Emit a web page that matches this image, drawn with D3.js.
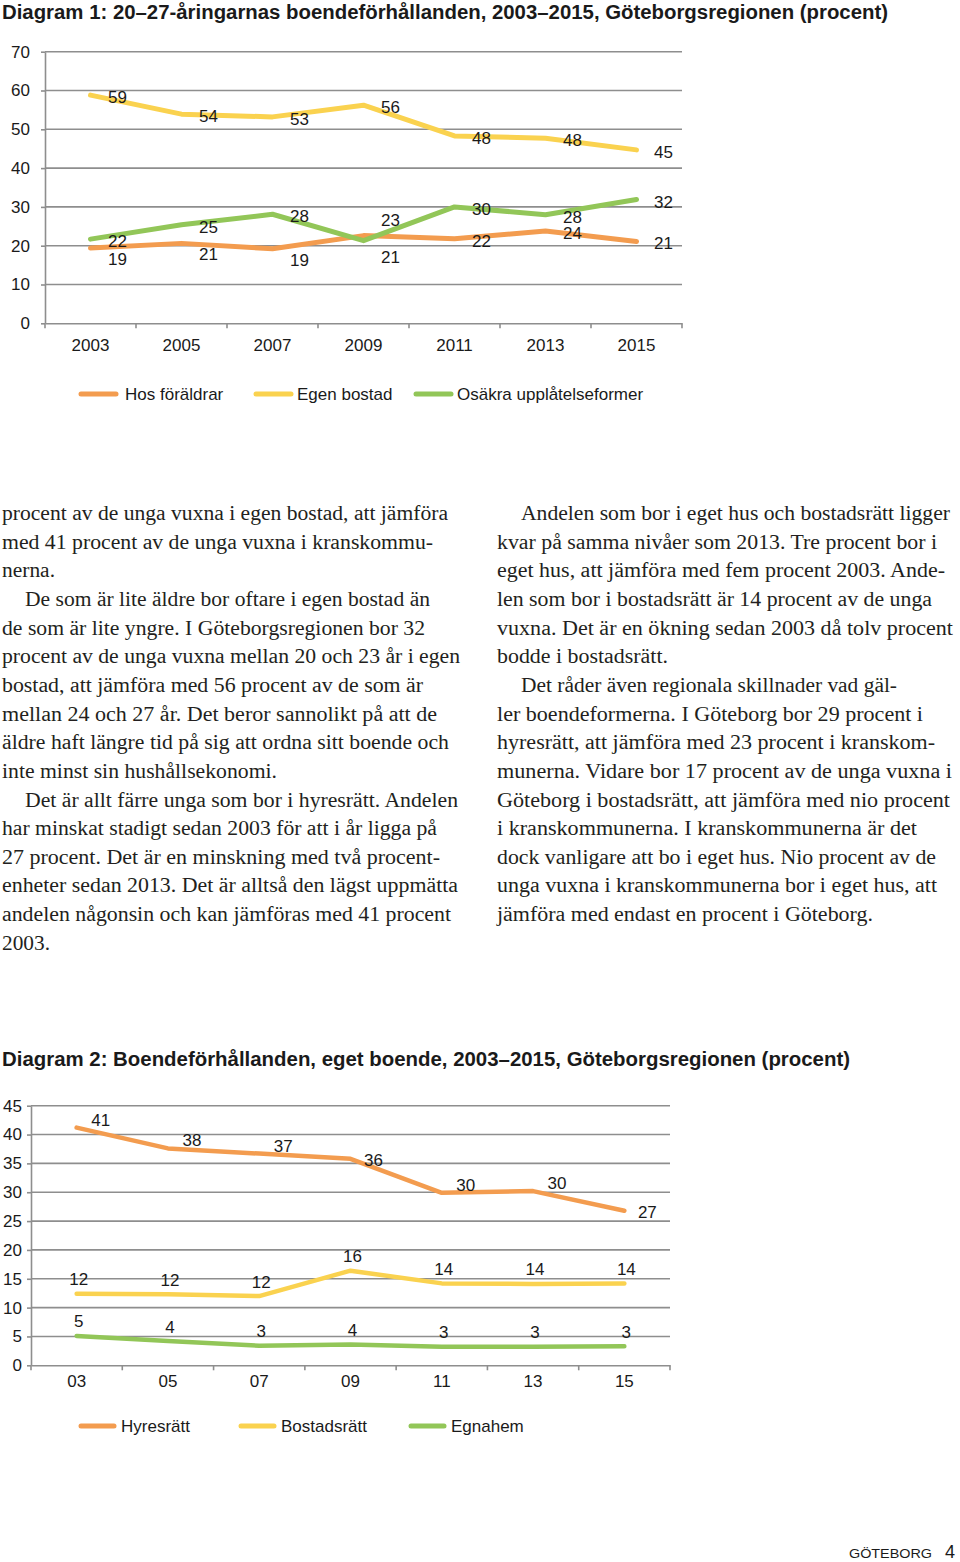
<!DOCTYPE html>
<html><head><meta charset="utf-8">
<script src="https://cdn.jsdelivr.net/npm/d3@7"></script>
<style>body{margin:0;background:#fff} svg{display:block}</style>
</head><body><svg id="page" width="960" height="1562"></svg>
<script>
// ---------- DATA ----------
const title1 = "Diagram 1: 20–27-åringarnas boendeförhållanden, 2003–2015, Göteborgsregionen (procent)";
const years1 = ['2003','2005','2007','2009','2011','2013','2015'];
const hosForaldrar = [19.4, 20.6, 19.2, 22.6, 21.8, 23.8, 21.1];
const egenBostad   = [58.8, 53.9, 53.2, 56.2, 48.3, 47.7, 44.7];
const osakra       = [21.7, 25.4, 28.1, 21.3, 30.0, 28.0, 31.9];
const yTicks1 = [0,10,20,30,40,50,60,70];
const legend1 = ['Hos föräldrar','Egen bostad','Osäkra upplåtelseformer'];

const title2 = "Diagram 2: Boendeförhållanden, eget boende, 2003–2015, Göteborgsregionen (procent)";
const years2 = ['03','05','07','09','11','13','15'];
const hyresratt   = [41.2, 37.6, 36.7, 35.8, 29.9, 30.2, 26.8];
const bostadsratt = [12.4, 12.3, 12.0, 16.4, 14.2, 14.1, 14.2];
const egnahem     = [5.1, 4.2, 3.4, 3.6, 3.2, 3.2, 3.3];
const yTicks2 = [0,5,10,15,20,25,30,35,40,45];
const legend2 = ['Hyresrätt','Bostadsrätt','Egnahem'];

const leftLines = [
 "procent av de unga vuxna i egen bostad, att jämföra",
 "med 41 procent av de unga vuxna i kranskommu-",
 "nerna.",
 "De som är lite äldre bor oftare i egen bostad än",
 "de som är lite yngre. I Göteborgsregionen bor 32",
 "procent av de unga vuxna mellan 20 och 23 år i egen",
 "bostad, att jämföra med 56 procent av de som är",
 "mellan 24 och 27 år. Det beror sannolikt på att de",
 "äldre haft längre tid på sig att ordna sitt boende och",
 "inte minst sin hushållsekonomi.",
 "Det är allt färre unga som bor i hyresrätt. Andelen",
 "har minskat stadigt sedan 2003 för att i år ligga på",
 "27 procent. Det är en minskning med två procent-",
 "enheter sedan 2013. Det är alltså den lägst uppmätta",
 "andelen någonsin och kan jämföras med 41 procent",
 "2003."
];
const rightLines = [
 "Andelen som bor i eget hus och bostadsrätt ligger",
 "kvar på samma nivåer som 2013. Tre procent bor i",
 "eget hus, att jämföra med fem procent 2003. Ande-",
 "len som bor i bostadsrätt är 14 procent av de unga",
 "vuxna. Det är en ökning sedan 2003 då tolv procent",
 "bodde i bostadsrätt.",
 "Det råder även regionala skillnader vad gäl-",
 "ler boendeformerna. I Göteborg bor 29 procent i",
 "hyresrätt, att jämföra med 23 procent i kranskom-",
 "munerna. Vidare bor 17 procent av de unga vuxna i",
 "Göteborg i bostadsrätt, att jämföra med nio procent",
 "i kranskommunerna. I kranskommunerna är det",
 "dock vanligare att bo i eget hus. Nio procent av de",
 "unga vuxna i kranskommunerna bor i eget hus, att",
 "jämföra med endast en procent i Göteborg."
];
const footerText = "GÖTEBORG";
const pageNo = "4";

// ---------- LAYOUT / STYLE ----------
const ORANGE = '#F39C4F', YELLOW = '#FAD24F', GREEN = '#92C658';
const GRID = '#8e8e8e', INK = '#1a1a1a';
const SANS = "'Liberation Sans', Arial, Helvetica, sans-serif";
const SERIF = "'Liberation Serif', 'Times New Roman', serif";
const FS = 17;

const leftStart = 2, leftIndent = 25;
const leftEnds = [448,433,55,430,425,460,423,437,449,277,458,437,440,458,451,50];
const leftIndented = [3,10];
const rightStart = 497, rightIndent = 521;
const rightEnds = [950,937,945,932,953,668,897,923,935,952,950,917,936,937,873];
const rightIndented = [0,6];
const bodyTop = 520, bodyLead = 28.65;

const svg = d3.select('#page');

// ---------- Titles ----------
function title(txt, y, x2){
  svg.append('text').attr('x',2).attr('y',y).attr('font-family',SANS)
    .attr('font-weight','bold').attr('font-size',20).attr('fill',INK)
    .attr('textLength', x2-2).attr('lengthAdjust','spacingAndGlyphs').text(txt);
}
title(title1, 18.5, 888);
title(title2, 1065.5, 850);

// ---------- Chart builder ----------
function drawChart(cfg){
  const g = svg.append('g');
  const x = d3.scaleBand().domain(cfg.cats).range([cfg.x0, cfg.x1]);
  const y = d3.scaleLinear().domain([0, cfg.ymax]).range([cfg.y0, cfg.y1]);
  const cx = c => x(c) + x.bandwidth()/2;

  g.append('g').selectAll('line').data(cfg.yTicks.filter(t=>t>0)).join('line')
    .attr('x1',cfg.x0).attr('x2',cfg.x1).attr('y1',d=>y(d)).attr('y2',d=>y(d))
    .attr('stroke',GRID).attr('stroke-width',1.6);

  const ya = g.append('g').attr('transform',`translate(${cfg.x0},0)`)
    .call(d3.axisLeft(y).tickValues(cfg.yTicks).tickSize(4).tickPadding(cfg.yPad).tickSizeOuter(0));
  ya.select('.domain').attr('stroke',GRID).attr('stroke-width',1.6);
  ya.selectAll('.tick line').attr('stroke',GRID).attr('stroke-width',1.6);
  ya.selectAll('.tick text').attr('font-family',SANS).attr('font-size',FS).attr('fill',INK);

  const xa = g.append('g').attr('transform',`translate(0,${cfg.y0})`)
    .call(d3.axisBottom(x).tickSize(0).tickPadding(cfg.xPad).tickSizeOuter(0));
  xa.select('.domain').attr('stroke',GRID).attr('stroke-width',1.6);
  xa.selectAll('.tick text').attr('font-family',SANS).attr('font-size',FS).attr('fill',INK);
  const bounds = cfg.cats.map(c=>x(c)).concat([cfg.x1]);
  xa.append('g').selectAll('line').data(bounds).join('line')
    .attr('x1',d=>d).attr('x2',d=>d).attr('y1',0).attr('y2',5)
    .attr('stroke',GRID).attr('stroke-width',1.6);

  const line = d3.line().x((d,i)=>cx(cfg.cats[i])).y(d=>y(d));
  cfg.series.forEach(s=>{
    g.append('path').datum(s.values).attr('d',line).attr('fill','none')
      .attr('stroke',s.color).attr('stroke-width',cfg.lw)
      .attr('stroke-linecap','round').attr('stroke-linejoin','round');
  });
  cfg.series.forEach(s=>{
    g.append('g').selectAll('text').data(s.values).join('text')
      .attr('x',(d,i)=>cx(cfg.cats[i]) + cfg.pos[s.pos[i]][0])
      .attr('y',(d,i)=>y(d) + cfg.pos[s.pos[i]][1] + 6)
      .attr('text-anchor','middle').attr('font-family',SANS).attr('font-size',FS)
      .attr('fill',INK).text(d=>Math.round(d));
  });

  const lg = g.append('g');
  cfg.legend.forEach((name,i)=>{
    const [lx, tx] = cfg.legendX[i];
    lg.append('line').attr('x1',lx).attr('x2',lx+cfg.legendLen).attr('y1',cfg.legendY).attr('y2',cfg.legendY)
      .attr('stroke',cfg.series[i].color).attr('stroke-width',5).attr('stroke-linecap','round');
    lg.append('text').attr('x',tx).attr('y',cfg.legendY+6).attr('font-family',SANS)
      .attr('font-size',FS).attr('fill',INK).text(name);
  });
}

drawChart({
  cats: years1, ymax: 70, yTicks: yTicks1,
  x0: 45, x1: 682, y0: 323.3, y1: 51.7, yPad: 11, xPad: 16, lw: 5,
  pos: { r:[27,2], br:[27,11], ar:[27,-16], bb:[27,16] },
  series: [
    {values: hosForaldrar, color: ORANGE, pos: ['br','br','br','ar','r','r','r']},
    {values: egenBostad,   color: YELLOW, pos: ['r','r','r','r','r','r','r']},
    {values: osakra,       color: GREEN,  pos: ['r','r','r','bb','r','r','r']}
  ],
  legend: legend1, legendY: 394, legendLen: 35,
  legendX: [[81,125],[256,297],[416,457]]
});

drawChart({
  cats: years2, ymax: 45, yTicks: yTicks2,
  x0: 31, x1: 670, y0: 1365.3, y1: 1105.7, yPad: 5, xPad: 10, lw: 4.5,
  pos: { ar:[24,-8], r:[23,1], a:[2,-14.5] },
  series: [
    {values: hyresratt,   color: ORANGE, pos: ['ar','ar','ar','r','ar','ar','r']},
    {values: bostadsratt, color: YELLOW, pos: ['a','a','a','a','a','a','a']},
    {values: egnahem,     color: GREEN,  pos: ['a','a','a','a','a','a','a']}
  ],
  legend: legend2, legendY: 1426, legendLen: 33,
  legendX: [[81,121],[241,281],[411,451]]
});

// ---------- Body text ----------
function column(lines, start, indent, ends, indented){
  const g = svg.append('g').attr('font-family',SERIF).attr('fill','#231f20');
  return g.selectAll('text').data(lines).join('text')
    .attr('x',(d,i)=>indented.includes(i)?indent:start)
    .attr('y',(d,i)=>bodyTop + i*bodyLead)
    .attr('font-size',20).text(d=>d);
}
const L = column(leftLines, leftStart, leftIndent, leftEnds, leftIndented);
const R = column(rightLines, rightStart, rightIndent, rightEnds, rightIndented);
let nat = 0, tgt = 0;
L.each(function(d,i){ nat += this.getComputedTextLength(); tgt += leftEnds[i] - (leftIndented.includes(i)?leftIndent:leftStart); });
R.each(function(d,i){ nat += this.getComputedTextLength(); tgt += rightEnds[i] - (rightIndented.includes(i)?rightIndent:rightStart); });
const fs = 20 * tgt / nat;
L.attr('font-size',fs).attr('lengthAdjust','spacingAndGlyphs')
 .attr('textLength',(d,i)=>leftEnds[i] - (leftIndented.includes(i)?leftIndent:leftStart));
R.attr('font-size',fs).attr('lengthAdjust','spacingAndGlyphs')
 .attr('textLength',(d,i)=>rightEnds[i] - (rightIndented.includes(i)?rightIndent:rightStart));

// ---------- Footer ----------
svg.append('text').attr('x',849).attr('y',1558).attr('font-family',SANS).attr('font-size',13.5)
  .attr('fill',INK).attr('textLength',83).attr('lengthAdjust','spacingAndGlyphs').text(footerText);
svg.append('text').attr('x',945).attr('y',1558).attr('font-family',SANS).attr('font-size',18)
  .attr('fill',INK).text(pageNo);
</script></body></html>
